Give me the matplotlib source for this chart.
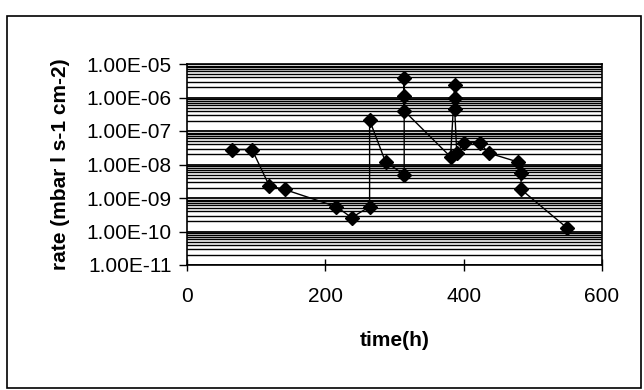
import matplotlib
matplotlib.use("Agg")
import matplotlib.pyplot as plt
from matplotlib.ticker import LogLocator, FixedLocator, FuncFormatter
from matplotlib.patches import Rectangle

# values
time_h = [65, 94, 119, 141, 216, 238, 264, 264, 287, 314, 314, 314, 314,
          381, 387, 387, 387, 390, 400, 423, 436, 478, 483, 483, 549]
rate = [2.8e-8, 2.8e-8, 2.3e-9, 1.8e-9, 5.5e-10, 2.6e-10, 5.5e-10, 2.1e-7,
        1.2e-8, 5e-9, 3.8e-6, 1.1e-6, 4e-7, 1.7e-8, 2.3e-6, 1e-6, 4.5e-7,
        2.2e-8, 4.4e-8, 4.5e-8, 2.2e-8, 1.2e-8, 5.6e-9, 1.8e-9, 1.3e-10]
x_ticks = [0, 200, 400, 600]
y_ticks = [1e-11, 1e-10, 1e-9, 1e-8, 1e-7, 1e-6, 1e-5]

plt.rcParams["font.family"] = ["Liberation Sans", "DejaVu Sans"]

fig = plt.figure(figsize=(6.44, 3.9), dpi=100)
ax = fig.add_axes([187 / 644, 1 - 265 / 390, 415 / 644, 201 / 390])

# outer chart frame
fig.patches.append(Rectangle((7 / 644, 2 / 390), 634 / 644, 372 / 390,
                             transform=fig.transFigure, fill=False,
                             edgecolor="black", linewidth=1.2))

ax.plot(time_h, rate, color="black", linewidth=1.0, marker="D",
        markersize=7, markerfacecolor="black", markeredgecolor="black",
        zorder=3)

ax.set_yscale("log")
ax.set_xlim(0, 600)
ax.set_ylim(1e-11, 1e-5)

ax.xaxis.set_major_locator(FixedLocator(x_ticks))
ax.yaxis.set_major_locator(FixedLocator(y_ticks))
ax.yaxis.set_minor_locator(LogLocator(base=10, subs=range(2, 10), numticks=20))
ax.yaxis.set_major_formatter(FuncFormatter(lambda v, p: "%.2E" % v))
ax.yaxis.set_minor_formatter(FuncFormatter(lambda v, p: ""))

# dense major + minor gridlines as in the scan
ax.grid(True, which="major", axis="y", color="black", linewidth=1.3)
ax.grid(True, which="minor", axis="y", color="black", linewidth=1.0)
ax.set_axisbelow(True)

ax.tick_params(axis="x", direction="inout", length=8, width=1, pad=12,
               labelsize=15)
ax.tick_params(axis="y", which="major", direction="out", length=6, width=1,
               pad=5, labelsize=15)
ax.tick_params(axis="y", which="minor", length=0)

for s in ax.spines.values():
    s.set_color("black")
    s.set_linewidth(1.2)

ax.set_xlabel("time(h)", fontsize=15, fontweight="bold", labelpad=18)
ax.set_ylabel("rate (mbar l s-1 cm-2)", fontsize=15, fontweight="bold",
              labelpad=12)

fig.savefig("out.png", dpi=100, facecolor="white")
